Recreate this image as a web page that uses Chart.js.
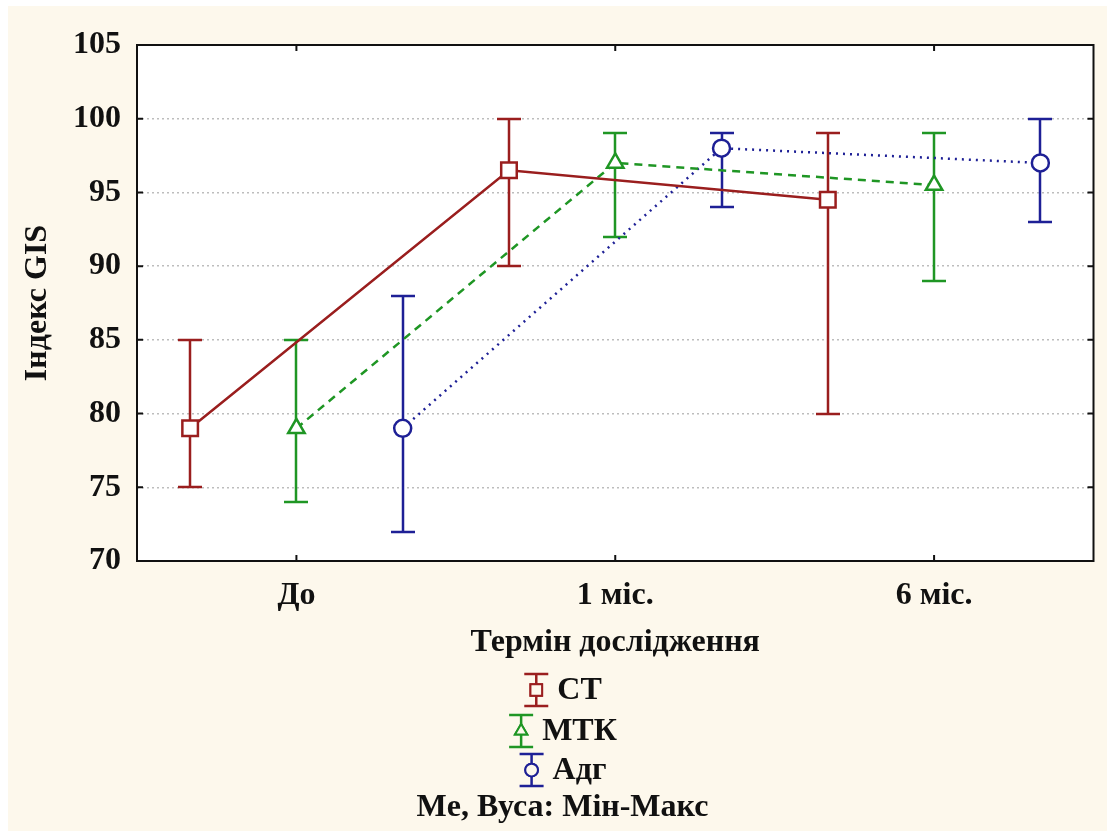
<!DOCTYPE html>
<html>
<head>
<meta charset="utf-8">
<script src="https://cdn.jsdelivr.net/npm/chart.js@4.4.1/dist/chart.umd.min.js"></script>
<style>
  html, body { margin: 0; padding: 0; background: #fff; }
  #wrap { position: absolute; left: 8px; top: 6px; width: 1099px; height: 825px; background: #fdf8ec; }
</style>
</head>
<body>
<div id="wrap"><canvas id="gisChart" width="1099" height="825"></canvas></div>
<script>
// GIS index by study period: median with min-max whiskers

const periods = ['До', '1 міс.', '6 міс.'];
const groups = ['СТ', 'МТК', 'Адг'];

const ctMedian = [79, 96.5, 94.5];
const ctMin = [75, 90, 80];
const ctMax = [85, 100, 99];

const mtkMedian = [79, 97, 95.5];
const mtkMin = [74, 92, 89];
const mtkMax = [85, 99, 99];

const adgMedian = [79, 98, 97];
const adgMin = [72, 94, 93];
const adgMax = [88, 99, 100];

const yTicks = [70, 75, 80, 85, 90, 95, 100, 105];

const FONT = '"Liberation Serif", "Times New Roman", serif';
const colors = ['#9a1e1e', '#1f9624', '#1e2096'];
const dodge = [-1 / 3, 0, 1 / 3];

function points(med, lo, hi, g) {
    return med.map((v, i) => ({ x: i + 0.5 + dodge[g], y: v, min: lo[i], max: hi[i] }));
}

const series = [
    { label: groups[0], data: points(ctMedian, ctMin, ctMax, 0), dash: [], style: 'rect', r: 11 },
    { label: groups[1], data: points(mtkMedian, mtkMin, mtkMax, 1), dash: [8, 6], style: 'triangle', r: 9.5 },
    { label: groups[2], data: points(adgMedian, adgMin, adgMax, 2), dash: [2, 5], style: 'circle', r: 8.5 }
];

const whiskers = {
    id: 'whiskers',
    beforeDraw(chart) {
        const { ctx, chartArea: a } = chart;
        ctx.save();
        ctx.fillStyle = '#fff';
        ctx.fillRect(a.left, a.top, a.right - a.left, a.bottom - a.top);
        ctx.restore();
    },
    beforeDatasetsDraw(chart) {
        const { ctx, scales: { x, y } } = chart;
        ctx.save();
        ctx.lineWidth = 2.5;
        chart.data.datasets.forEach(ds => {
            ctx.strokeStyle = ds.borderColor;
            ds.data.forEach(p => {
                const px = Math.round(x.getPixelForValue(p.x));
                const t = Math.round(y.getPixelForValue(p.max));
                const b = Math.round(y.getPixelForValue(p.min));
                ctx.beginPath();
                ctx.moveTo(px, t); ctx.lineTo(px, b);
                ctx.moveTo(px - 12, t); ctx.lineTo(px + 12, t);
                ctx.moveTo(px - 12, b); ctx.lineTo(px + 12, b);
                ctx.stroke();
            });
        });
        ctx.restore();
    },
    afterDraw(chart) {
        const { ctx, chartArea: a, scales: { x, y } } = chart;
        ctx.save();
        // frame + inward ticks
        ctx.strokeStyle = '#111';
        ctx.lineWidth = 2;
        ctx.setLineDash([]);
        ctx.strokeRect(a.left, a.top, a.right - a.left, a.bottom - a.top);
        ctx.beginPath();
        yTicks.forEach(v => {
            const py = y.getPixelForValue(v);
            ctx.moveTo(a.left, py); ctx.lineTo(a.left + 6, py);
            ctx.moveTo(a.right, py); ctx.lineTo(a.right - 6, py);
        });
        periods.forEach((p, i) => {
            const px = x.getPixelForValue(i + 0.5);
            ctx.moveTo(px, a.bottom); ctx.lineTo(px, a.bottom - 6);
            ctx.moveTo(px, a.top); ctx.lineTo(px, a.top + 6);
        });
        ctx.stroke();

        // legend
        const cx = chart.width / 2 + 5;
        const rows = [684, 725, 764];
        ctx.font = 'bold 32px ' + FONT;
        ctx.textBaseline = 'middle';
        ctx.textAlign = 'left';
        chart.data.datasets.forEach((ds, i) => {
            const tw = ctx.measureText(ds.label).width;
            const total = 26 + 8 + tw;
            const ix = cx - total / 2 + 13;
            const ry = rows[i];
            ctx.strokeStyle = ds.borderColor;
            ctx.lineWidth = 2.5;
            ctx.beginPath();
            ctx.moveTo(ix, ry - 16); ctx.lineTo(ix, ry + 16);
            ctx.moveTo(ix - 12, ry - 16); ctx.lineTo(ix + 12, ry - 16);
            ctx.moveTo(ix - 12, ry + 16); ctx.lineTo(ix + 12, ry + 16);
            ctx.stroke();
            ctx.fillStyle = '#fdf8ec';
            ctx.lineWidth = 2;
            Chart.helpers.drawPoint(ctx, {
                pointStyle: ds.pointStyle, radius: ds.pointRadius * 0.75, rotation: 0, borderWidth: 2
            }, ix, ry);
            ctx.fill();
            ctx.stroke();
            ctx.fillStyle = '#111';
            ctx.fillText(ds.label, ix + 21, ry + 1);
        });
        ctx.textAlign = 'center';
        ctx.fillText('Me, Вуса: Мін-Макс', cx, 802);
        ctx.restore();
    }
};

new Chart(document.getElementById('gisChart'), {
    type: 'line',
    data: {
        datasets: series.map((s, g) => ({
            label: s.label,
            data: s.data,
            borderColor: colors[g],
            borderWidth: 2.5,
            borderDash: s.dash,
            pointStyle: s.style,
            pointRadius: s.r,
            pointBorderWidth: 2.5,
            pointBorderColor: colors[g],
            pointBackgroundColor: '#fff',
            tension: 0
        }))
    },
    plugins: [whiskers],
    options: {
        responsive: false,
        animation: false,
        events: [],
        layout: { padding: { top: 39, right: 5, left: 0, bottom: 0 } },
        plugins: {
            legend: { display: false },
            tooltip: { enabled: false }
        },
        scales: {
            x: {
                type: 'linear',
                min: 0,
                max: 3,
                afterBuildTicks(scale) {
                    scale.ticks = periods.map((p, i) => ({ value: i + 0.5 }));
                },
                afterFit(scale) { scale.height = 270; },
                grid: { display: false, drawTicks: false },
                border: { display: false },
                ticks: {
                    padding: 16,
                    color: '#111',
                    font: { family: FONT, size: 32, weight: 'bold' },
                    callback: (v) => periods[Math.round(v - 0.5)]
                },
                title: {
                    display: true,
                    text: 'Термін дослідження',
                    color: '#111',
                    font: { family: FONT, size: 32, weight: 'bold' },
                    padding: { top: 0, bottom: 169 }
                }
            },
            y: {
                min: yTicks[0],
                max: yTicks[yTicks.length - 1],
                afterBuildTicks(scale) {
                    scale.ticks = yTicks.map(v => ({ value: v }));
                },
                afterFit(scale) { scale.width = 129; },
                grid: {
                    drawTicks: false,
                    color: '#bdbdbd',
                    lineWidth: 1.5
                },
                border: { display: false, dash: [2, 3] },
                ticks: {
                    padding: 16,
                    color: '#111',
                    font: { family: FONT, size: 32, weight: 'bold' }
                },
                title: {
                    display: true,
                    text: 'Індекс GIS',
                    color: '#111',
                    font: { family: FONT, size: 32, weight: 'bold' },
                    padding: { top: 11, bottom: 0 }
                }
            }
        }
    }
});
</script>
</body>
</html>
